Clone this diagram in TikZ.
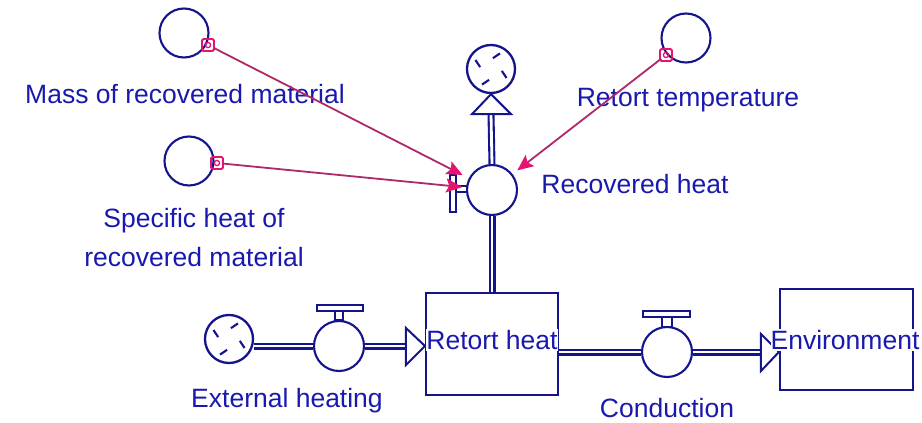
\documentclass[tikz,border=0pt]{standalone}
\usepackage{fontspec}
\setmainfont{Liberation Sans}
\usetikzlibrary{arrows.meta,calc}
\definecolor{ink}{RGB}{20,20,140}
\definecolor{txt}{RGB}{25,25,175}
\definecolor{linkc}{RGB}{175,40,105}
\definecolor{tipc}{RGB}{230,20,110}
\begin{document}
\begin{tikzpicture}[x=1pt,y=-1pt,
  aux/.style={circle,draw=ink,line width=2.1pt,minimum size=49pt,inner sep=0},
  valve/.style={circle,draw=ink,line width=2.1pt,minimum size=50pt,inner sep=0,fill=white},
  cloudc/.style={circle,draw=ink,line width=2.3pt,minimum size=48pt,inner sep=0},
  stock/.style={draw=ink,line width=2.1pt,inner sep=0,rectangle},
  pipe/.style={draw=ink,line width=2.1pt,double=white,double distance=2.8pt},
  handle/.style={draw=ink,line width=2pt,fill=white},
  tri/.style={draw=ink,line width=2pt,fill=white,line join=miter},
  lbl/.style={text=txt,font=\fontsize{26.5}{39}\selectfont,inner sep=0,align=center},
  marker/.style={draw=tipc,line width=1.8pt,minimum size=12pt,inner sep=0,rectangle,rounded corners=1.5pt},
  linkarrow/.style={draw=linkc,line width=1.8pt,shorten <=6pt,
     -{Stealth[length=16pt,width=14pt,inset=3pt,fill=tipc,color=tipc]}},
  tick/.style={draw=ink,line width=2.1pt}
]
\useasboundingbox[fill=white] (0,0) rectangle (922,423);

% auxiliaries
\node[aux] (mass) at (184,33) {};
\node[aux] (temp) at (686,38) {};
\node[aux] (spec) at (189,161) {};

% clouds
\node[cloudc] (cloudtop) at (491,69) {};
\node[cloudc] (cloudsrc) at (229,339) {};
\foreach \c in {cloudtop,cloudsrc}{
  \foreach \a in {60,150,240,330}{
    \draw[tick] ($(\c)+(\a:18pt)$) -- ($(\c)+(\a+20:11pt)$);
  }
}

% stocks
\node[stock,minimum width=132pt,minimum height=102pt] (rh) at (492,344) {};
\node[stock,minimum width=133pt,minimum height=101pt] (env) at (846.5,339.5) {};

% valves
\node[valve] (vrec) at (492,190) {};
\node[valve] (vext) at (339,346) {};
\node[valve] (vcon) at (667,352) {};

% pipes
\draw[pipe] (vext.west -| cloudsrc.east) -- (vext.west);
\draw[pipe] (vext.east) -- ($(vext.east -| rh.west)+(-19,0)$);
\draw[tri] (vext.east -| rh.west) -- ++(-19,-18) -- ++(0,37) -- cycle;

\draw[pipe] (vcon.west -| rh.east) -- (vcon.west);
\draw[pipe] (vcon.east) -- ($(vcon.east -| env.west)+(-18,0)$);
\draw[tri] (vcon.east -| env.west) -- ++(-18,-18) -- ++(0,37) -- cycle;

\draw[pipe] (vrec.south) -- (vrec.south |- rh.north);
\draw[pipe] (vrec.north) -- ($(cloudtop.south)+(0,20)$);
\draw[tri] (cloudtop.south) -- ++(-19,20) -- ++(39,0) -- cycle;

% valve handles
\draw[handle] (335,311) rectangle (343,320);
\draw[handle] (317,305) rectangle (363,311);
\draw[handle] (662,317) rectangle (672,327);
\draw[handle] (643,311) rectangle (690,317);
\draw[handle] (456,186) rectangle (467,192);
\draw[handle] (450,175) rectangle (456,212);

% labels
\node[lbl] (lmass) at (185,94) {Mass of recovered material};
\node[lbl] (ltemp) at (688,100) {Retort temperature};
\node[lbl] (lspec) at (194,238) {Specific heat of\\recovered material};
\node[lbl] (lrec) at (635,184) {Recovered heat};
\node[lbl] (lext) at (287,401) {External heating};
\node[lbl] (lcon) at (667,408) {Conduction};
\node[lbl,fill=white,inner ysep=1pt] (lrh) at (492,340) {Retort heat};
\node[lbl,fill=white,inner ysep=1pt] (lenv) at (845,340) {Environment};

% markers
\node[marker] (mm) at (208,45) {};
\node[marker] (tm) at (666,55) {};
\node[marker] (sm) at (217,163) {};
\foreach \m in {mm,tm,sm}{ \draw[tipc,line width=1.3pt] (\m) circle (2.6pt); }

% links
\draw[linkarrow,shorten >=33pt] (mm.center) -- (vrec.center);
\draw[linkarrow,shorten >=30pt] (sm.center) -- (vrec.center);
\draw[linkarrow,shorten >=32pt] (tm.center) -- (vrec.center);
\end{tikzpicture}
\end{document}
